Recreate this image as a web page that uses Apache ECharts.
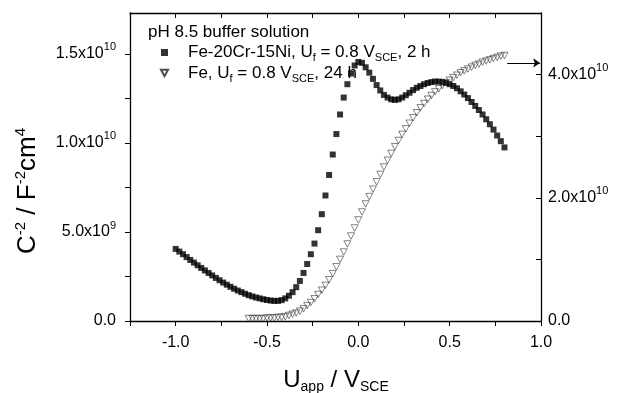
<!DOCTYPE html>
<html>
<head>
<meta charset="utf-8">
<script src="https://cdn.jsdelivr.net/npm/echarts@6/dist/echarts.min.js"></script>
<style>
html, body { margin: 0; padding: 0; background: #fff; }
#chart { width: 621px; height: 393px; }
</style>
</head>
<body>
<div id="chart"></div>
<script>
// Fe-20Cr-15Ni passive film, formed at 0.8 V_SCE for 2 h (left axis, C^-2 in 10^9 F^-2 cm^4)
const crniU = [
  -1.00, -0.98, -0.96, -0.94, -0.92, -0.90, -0.88, -0.86, -0.84, -0.82,
  -0.80, -0.78, -0.76, -0.74, -0.72, -0.70, -0.68, -0.66, -0.64, -0.62,
  -0.60, -0.58, -0.56, -0.54, -0.52, -0.50, -0.48, -0.46, -0.44, -0.42,
  -0.40, -0.38, -0.36, -0.34, -0.32, -0.30, -0.28, -0.26, -0.24, -0.22,
  -0.20, -0.18, -0.16, -0.14, -0.12, -0.10, -0.08, -0.06, -0.04, -0.02,
   0.00,  0.02,  0.04,  0.06,  0.08,  0.10,  0.12,  0.14,  0.16,  0.18,
   0.20,  0.22,  0.24,  0.26,  0.28,  0.30,  0.32,  0.34,  0.36,  0.38,
   0.40,  0.42,  0.44,  0.46,  0.48,  0.50,  0.52,  0.54,  0.56,  0.58,
   0.60,  0.62,  0.64,  0.66,  0.68,  0.70,  0.72,  0.74,  0.76,  0.78,
   0.80
];
const crniC = [
  4.05, 3.90, 3.75, 3.59, 3.43, 3.28, 3.13, 2.98, 2.84, 2.70,
  2.56, 2.42, 2.29, 2.16, 2.04, 1.92, 1.81, 1.71, 1.62, 1.53,
  1.45, 1.38, 1.32, 1.27, 1.22, 1.18, 1.15, 1.13, 1.13, 1.17,
  1.27, 1.42, 1.62, 1.90, 2.25, 2.70, 3.20, 3.75, 4.35, 5.10,
  6.00, 7.05, 8.20, 9.35, 10.50, 11.60, 12.55, 13.30, 13.90, 14.35,
  14.55, 14.50, 14.25, 13.95, 13.60, 13.25, 12.95, 12.70, 12.55, 12.45,
  12.42, 12.45, 12.55, 12.68, 12.82, 12.97, 13.10, 13.20, 13.30, 13.37,
  13.42, 13.45, 13.45, 13.42, 13.37, 13.30, 13.20, 13.07, 12.90, 12.72,
  12.52, 12.30, 12.08, 11.85, 11.60, 11.33, 11.05, 10.75, 10.42, 10.10,
  9.75
];

// Pure Fe passive film, formed at 0.8 V_SCE for 24 h (right axis, C^-2 in 10^10 F^-2 cm^4)
const feU = [
  -0.60, -0.58, -0.56, -0.54, -0.52, -0.50, -0.48, -0.46, -0.44, -0.42,
  -0.40, -0.38, -0.36, -0.34, -0.32, -0.30, -0.28, -0.26, -0.24, -0.22,
  -0.20, -0.18, -0.16, -0.14, -0.12, -0.10, -0.08, -0.06, -0.04, -0.02,
   0.00,  0.02,  0.04,  0.06,  0.08,  0.10,  0.12,  0.14,  0.16,  0.18,
   0.20,  0.22,  0.24,  0.26,  0.28,  0.30,  0.32,  0.34,  0.36,  0.38,
   0.40,  0.42,  0.44,  0.46,  0.48,  0.50,  0.52,  0.54,  0.56,  0.58,
   0.60,  0.62,  0.64,  0.66,  0.68,  0.70,  0.72,  0.74,  0.76,  0.78,
   0.80
];
const feC = [
  0.04, 0.04, 0.04, 0.04, 0.04, 0.05, 0.05, 0.05, 0.06, 0.06,
  0.07, 0.09, 0.11, 0.13, 0.16, 0.20, 0.25, 0.30, 0.36, 0.43,
  0.50, 0.58, 0.67, 0.77, 0.88, 1.00, 1.12, 1.25, 1.38, 1.51,
  1.64, 1.77, 1.90, 2.02, 2.14, 2.26, 2.38, 2.50, 2.61, 2.72,
  2.83, 2.93, 3.03, 3.12, 3.21, 3.30, 3.38, 3.46, 3.53, 3.60,
  3.66, 3.72, 3.77, 3.82, 3.87, 3.91, 3.95, 3.99, 4.03, 4.06,
  4.09, 4.12, 4.15, 4.17, 4.20, 4.22, 4.24, 4.26, 4.28, 4.30,
  4.31
];

// Tick labels
const xTickValues = [-1.0, -0.5, 0.0, 0.5, 1.0];
const xTickLabels = ['-1.0', '-0.5', '0.0', '0.5', '1.0'];
const leftTickValues = [0, 5, 10, 15];
const leftTickLabels = ['{m|0.0}', '{m|5.0x10}{sup|9}', '{m|1.0x10}{sup|10}', '{m|1.5x10}{sup|10}'];
const rightTickValues = [0, 2, 4];
const rightTickLabels = ['{m|0.0}', '{m|2.0x10}{sup|10}', '{m|4.0x10}{sup|10}'];

// Legend texts
const crniName = 'Fe-20Cr-15Ni, Uf = 0.8 VSCE, 2 h';
const feName = 'Fe, Uf = 0.8 VSCE, 24 h';
const legendRich = {};
legendRich[crniName] = '{n|Fe-20Cr-15Ni, U}{sub|f}{n| = 0.8 V}{sub|SCE}{n|, 2 h}';
legendRich[feName] = '{n|Fe, U}{sub|f}{n| = 0.8 V}{sub|SCE}{n|, 24 h}';

const FONT = 'Liberation Sans, Arial, Helvetica, sans-serif';

function pick(values, labels, v) {
  for (let i = 0; i < values.length; i++) {
    if (Math.abs(values[i] - v) < 1e-6) return labels[i];
  }
  return '';
}

const chart = echarts.init(document.getElementById('chart'), null, { renderer: 'canvas' });

const axisLineStyle = { color: '#000', width: 1.3 };
const tickLineStyle = { color: '#000', width: 1 };
const yLabelRich = {
  m: { fontSize: 16, lineHeight: 24, verticalAlign: 'middle', fontFamily: FONT, color: '#000' },
  sup: { fontSize: 11, lineHeight: 10, verticalAlign: 'top', fontFamily: FONT, color: '#000' }
};

chart.setOption({
  animation: false,
  backgroundColor: '#fff',
  grid: { left: 130, right: 80, top: 13, bottom: 72 },
  title: {
    text: 'pH 8.5 buffer solution',
    left: 148,
    top: 22,
    padding: 0,
    textStyle: { fontSize: 17, fontWeight: 'normal', color: '#000', fontFamily: FONT, lineHeight: 20 }
  },
  legend: {
    orient: 'vertical',
    left: 155,
    top: 39,
    itemWidth: 7,
    itemHeight: 7,
    itemGap: 1,
    selectedMode: false,
    data: [crniName, feName],
    formatter: function (name) { return legendRich[name]; },
    textStyle: {
      color: '#000',
      fontFamily: FONT,
      fontSize: 17,
      padding: [0, 0, 0, 15],
      rich: {
        n: { fontSize: 17, lineHeight: 22, verticalAlign: 'middle', fontFamily: FONT, color: '#000' },
        sub: { fontSize: 11, lineHeight: 10, verticalAlign: 'bottom', fontFamily: FONT, color: '#000' }
      }
    }
  },
  xAxis: [
    {
      type: 'value',
      position: 'bottom',
      min: -1.25,
      max: 1.0,
      interval: 0.25,
      axisLine: { onZero: false, lineStyle: axisLineStyle },
      axisTick: { length: 5, lineStyle: tickLineStyle },
      splitLine: { show: false },
      axisLabel: {
        margin: 14,
        fontSize: 16,
        color: '#000',
        fontFamily: FONT,
        formatter: function (v) { return pick(xTickValues, xTickLabels, v); }
      }
    },
    {
      type: 'value',
      position: 'top',
      min: -1.25,
      max: 1.0,
      interval: 0.25,
      axisLine: { onZero: false, lineStyle: axisLineStyle },
      axisTick: { inside: true, length: 5, lineStyle: tickLineStyle },
      splitLine: { show: false },
      axisLabel: { show: false }
    }
  ],
  yAxis: [
    {
      type: 'value',
      position: 'left',
      min: 0,
      max: 17.3,
      interval: 2.5,
      axisLine: { show: true, onZero: false, lineStyle: axisLineStyle },
      axisTick: { show: true, length: 5, lineStyle: tickLineStyle },
      splitLine: { show: false },
      axisLabel: {
        margin: 14,
        showMaxLabel: false,
        formatter: function (v) { return pick(leftTickValues, leftTickLabels, v); },
        rich: yLabelRich
      }
    },
    {
      type: 'value',
      position: 'right',
      min: 0,
      max: 5,
      interval: 1,
      axisLine: { show: true, onZero: false, lineStyle: axisLineStyle },
      axisTick: { show: true, inside: true, length: 5, lineStyle: tickLineStyle },
      splitLine: { show: false },
      axisLabel: {
        margin: 7,
        showMaxLabel: false,
        formatter: function (v) { return pick(rightTickValues, rightTickLabels, v); },
        rich: yLabelRich
      }
    }
  ],
  series: [
    {
      name: crniName,
      type: 'scatter',
      xAxisIndex: 0,
      yAxisIndex: 0,
      symbol: 'rect',
      symbolSize: 6,
      itemStyle: { color: '#000' },
      emphasis: { disabled: true },
      data: crniU.map(function (u, i) { return [u, crniC[i]]; })
    },
    {
      name: feName,
      type: 'scatter',
      xAxisIndex: 0,
      yAxisIndex: 1,
      symbol: 'path://M0,0L10,0L5,9Z',
      symbolSize: [7, 6.5],
      itemStyle: { color: 'rgba(255,255,255,0)', borderColor: '#222', borderWidth: 0.7 },
      emphasis: { disabled: true },
      data: feU.map(function (u, i) { return [u, feC[i]]; }),
      markLine: {
        silent: true,
        symbolSize: 7,
        label: { show: false },
        lineStyle: { color: '#000', width: 1, type: 'solid' },
        data: [[
          { coord: [0.815, 4.19], symbol: 'none' },
          { coord: [0.995, 4.19], symbol: 'arrow' }
        ]]
      }
    }
  ],
  graphic: [
    {
      type: 'text',
      x: 336,
      y: 380,
      style: {
        text: '{m|U}{s|app}{m| / V}{s|SCE}',
        align: 'center',
        verticalAlign: 'middle',
        rich: {
          m: { fontSize: 24, lineHeight: 28, verticalAlign: 'middle', fontFamily: FONT, fill: '#000' },
          s: { fontSize: 14, lineHeight: 14, verticalAlign: 'bottom', fontFamily: FONT, fill: '#000' }
        }
      }
    },
    {
      type: 'text',
      x: 28,
      y: 191,
      rotation: Math.PI / 2,
      style: {
        text: '{m|C}{p|-2}{m| / F}{p|-2}{m|cm}{p|4}',
        align: 'center',
        verticalAlign: 'middle',
        rich: {
          m: { fontSize: 26, lineHeight: 30, verticalAlign: 'middle', fontFamily: FONT, fill: '#000' },
          p: { fontSize: 15, lineHeight: 14, verticalAlign: 'top', fontFamily: FONT, fill: '#000' }
        }
      }
    }
  ]
});
</script>
</body>
</html>
